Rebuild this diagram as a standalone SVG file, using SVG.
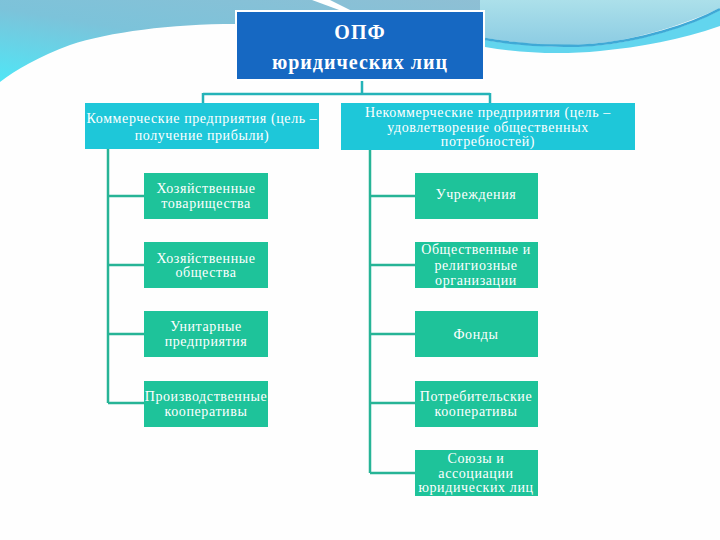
<svg xmlns="http://www.w3.org/2000/svg" width="720" height="540" viewBox="0 0 720 540">
<defs>
<linearGradient id="gl" x1="0" y1="1" x2="1" y2="0">
<stop offset="0" stop-color="#4fe6f6"/>
<stop offset="0.45" stop-color="#7cc3da"/>
<stop offset="1" stop-color="#8fbfd4"/>
</linearGradient>
<linearGradient id="gr" x1="0" y1="0" x2="0" y2="1">
<stop offset="0" stop-color="#ace0ea"/>
<stop offset="1" stop-color="#8ccce3"/>
</linearGradient>
<style>
.top{fill:#1668c2;stroke:#ffffff;stroke-width:2}
.hdr{fill:#1ec7d9}
.box{fill:#1ec39a}
.ln{fill:none;stroke:#27b496;stroke-width:2.5}
.tl{fill:none;stroke:#24b3b8;stroke-width:2.5}
.t{font-family:"Liberation Serif","DejaVu Serif",serif;font-size:14px;letter-spacing:0.6px;fill:#ffffff;text-anchor:middle}
.tb{font-family:"Liberation Serif","DejaVu Serif",serif;font-size:20px;letter-spacing:1px;font-weight:bold;fill:#ffffff;text-anchor:middle}
</style>
</defs>
<rect x="0" y="0" width="720" height="540" fill="#fefefe"/>
<g id="background">
<path d="M0,0 H500 V38 L236,24 C170,24 110,32 70,45 C40,56 15,70 0,82 Z" fill="url(#gl)"/>
<path d="M480,0 H720 V8 C690,22 640,40 590,44 C555,47 520,44 480,37 Z" fill="url(#gr)"/>
<path d="M485,40 C520,46 560,48 592,46 C640,42 690,26 720,10 V26 C680,40 640,47 600,51 C560,55 520,53 485,47 Z" fill="#62d5ee"/>
<path d="M485,39 C520,45 560,47 592,45 C640,41 690,25 720,9" fill="none" stroke="#3fa9d6" stroke-width="2.5"/>
<path d="M312,0 L330,0 L358,14 L350,14 Z" fill="#ffffff"/>
</g>
<g id="connectors">
<path class="tl" d="M362,80 V94 M203,94 H490 M203,93 V103 M490,93 V103"/>
<path class="ln" d="M108,149 V403 M108,196 H144 M108,265 H144 M108,334 H144 M108,403 H144"/>
<path class="ln" d="M370,150 V473 M370,196 H415 M370,265 H415 M370,334 H415 M370,403 H415 M370,473 H415"/>
</g>
<g id="root">
<rect class="top" x="236" y="11" width="248" height="69"/>
<text class="tb" x="360" y="39">ОПФ</text>
<text class="tb" x="360" y="69">юридических лиц</text>
</g>
<g id="commercial">
<rect class="hdr" x="85" y="103" width="234" height="46"/>
<text class="t" x="202" y="123">Коммерческие предприятия (цель –</text>
<text class="t" x="202" y="140">получение прибыли)</text>
</g>
<g id="noncommercial">
<rect class="hdr" x="341" y="103" width="294" height="47"/>
<text class="t" x="488" y="117">Некоммерческие предприятия (цель –</text>
<text class="t" x="488" y="132">удовлетворение общественных</text>
<text class="t" x="488" y="146">потребностей)</text>
</g>
<g id="l1">
<rect class="box" x="144" y="173" width="124" height="46"/>
<text class="t" x="206" y="193">Хозяйственные</text>
<text class="t" x="206" y="208">товарищества</text>
</g>
<g id="l2">
<rect class="box" x="144" y="242" width="124" height="46"/>
<text class="t" x="206" y="263">Хозяйственные</text>
<text class="t" x="206" y="277">общества</text>
</g>
<g id="l3">
<rect class="box" x="144" y="311" width="124" height="46"/>
<text class="t" x="206" y="331">Унитарные</text>
<text class="t" x="206" y="346">предприятия</text>
</g>
<g id="l4">
<rect class="box" x="144" y="381" width="124" height="46"/>
<text class="t" x="206" y="401">Производственные</text>
<text class="t" x="206" y="416">кооперативы</text>
</g>
<g id="r1">
<rect class="box" x="415" y="173" width="123" height="46"/>
<text class="t" x="476" y="199">Учреждения</text>
</g>
<g id="r2">
<rect class="box" x="415" y="242" width="123" height="46"/>
<text class="t" x="476" y="254">Общественные и</text>
<text class="t" x="476" y="270">религиозные</text>
<text class="t" x="476" y="285">организации</text>
</g>
<g id="r3">
<rect class="box" x="415" y="311" width="123" height="46"/>
<text class="t" x="476" y="339">Фонды</text>
</g>
<g id="r4">
<rect class="box" x="415" y="381" width="123" height="46"/>
<text class="t" x="476" y="401">Потребительские</text>
<text class="t" x="476" y="416">кооперативы</text>
</g>
<g id="r5">
<rect class="box" x="415" y="450" width="123" height="46"/>
<text class="t" x="476" y="463">Союзы и</text>
<text class="t" x="476" y="478">ассоциации</text>
<text class="t" x="476" y="492">юридических лиц</text>
</g>
</svg>
